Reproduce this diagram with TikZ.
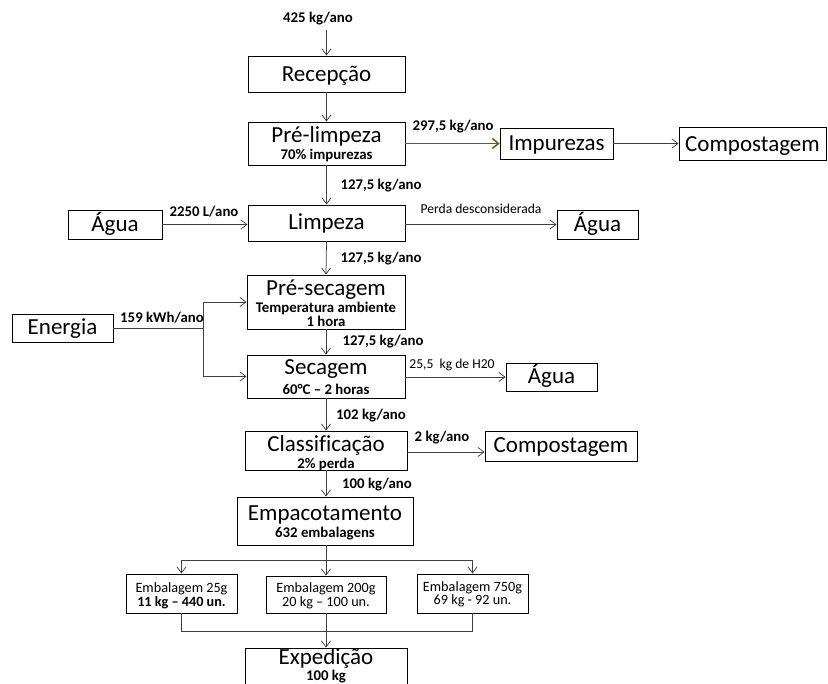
\documentclass[tikz,border=0pt]{standalone}
\usepackage{fontspec}
\setmainfont{Carlito}[Ligatures=CommonOff]
\usetikzlibrary{arrows.meta}
\definecolor{lnc}{HTML}{404040}
\definecolor{brn}{HTML}{7F5020}
\tikzset{
  box/.style={draw=black,line width=0.9pt,rectangle,inner sep=0pt,fill=white},
  conn/.style={draw=lnc,line width=0.75pt,-{Straight Barb[length=6pt,width=9pt,line width=0.75pt]}},
  plain/.style={draw=lnc,line width=0.75pt},
  big/.style={anchor=base,inner sep=0pt,font=\fontsize{23}{25}\selectfont},
  lab/.style={anchor=base,inner sep=0pt,font=\bfseries\fontsize{14.8}{16}\selectfont},
  sml/.style={anchor=base,inner sep=0pt,font=\fontsize{14.2}{15}\selectfont},
  smb/.style={anchor=base,inner sep=0pt,font=\bfseries\fontsize{14.2}{15}\selectfont},
  edr/.style={anchor=base,inner sep=0pt,font=\fontsize{13.6}{15}\selectfont}
}
\begin{document}
\begin{tikzpicture}[x=1pt,y=-1pt]
\useasboundingbox (0,0) rectangle (828,684);
\clip (0,0) rectangle (828,684);
% boxes
\node[box,minimum width=157pt,minimum height=36pt] (rec) at (326.5,74) {};
\node[box,minimum width=157pt,minimum height=43pt] (prel) at (326.5,143.5) {};
\node[box,minimum width=113pt,minimum height=31pt] (imp) at (556.5,143.5) {};
\node[box,minimum width=147pt,minimum height=33pt] (comp1) at (752.5,143.5) {};
\node[box,minimum width=94pt,minimum height=29pt] (agL) at (115,224.5) {};
\node[box,minimum width=157pt,minimum height=36pt] (limp) at (326.5,223) {};
\node[box,minimum width=81pt,minimum height=29pt] (agR) at (597.5,224.5) {};
\node[box,minimum width=158pt,minimum height=54pt] (pres) at (326,302) {};
\node[box,minimum width=101pt,minimum height=28pt] (ener) at (62.5,328) {};
\node[box,minimum width=158pt,minimum height=43pt] (sec) at (326,376.5) {};
\node[box,minimum width=91pt,minimum height=28pt] (agS) at (551.5,377) {};
\node[box,minimum width=162pt,minimum height=39pt] (cla) at (326,450.5) {};
\node[box,minimum width=152pt,minimum height=30pt] (comp2) at (561,446) {};
\node[box,minimum width=176pt,minimum height=48pt] (emp) at (325,521) {};
\node[box,minimum width=111pt,minimum height=39pt] (e25) at (181.5,593.5) {};
\node[box,minimum width=120pt,minimum height=37pt] (e200) at (326,594.5) {};
\node[box,minimum width=111pt,minimum height=39pt] (e750) at (472.5,593.5) {};
\node[box,minimum width=162pt,minimum height=52pt] (exp) at (326,674) {};
% box texts
\node[big] (trec) at (326.5,82) {Recepção};
\node[big] (tprel) at (326.5,143) {Pré-limpeza};
\node[lab] (tprel2) at (326.5,160) {70\% impurezas};
\node[big] (timp) at (556.5,151) {Impurezas};
\node[big] (tcomp1) at (752.5,152) {Compostagem};
\node[big] (tagL) at (115,232) {Água};
\node[big] (tlimp) at (326.5,230) {Limpeza};
\node[big] (tagR) at (597.5,232) {Água};
\node[big] (tpres) at (326,296) {Pré-secagem};
\node[lab] (tpres2) at (326,313) {Temperatura ambiente};
\node[lab] (tpres3) at (326,327) {1 hora};
\node[big] (tener) at (62.5,335) {Energia};
\node[big] (tsec) at (326,375) {Secagem};
\node[lab] (tsec2) at (326,395) {60°C – 2 horas};
\node[big] (tagS) at (551.5,384) {Água};
\node[big] (tcla) at (326,452) {Classificação};
\node[lab] (tcla2) at (326,469) {2\% perda};
\node[big] (tcomp2) at (561,453) {Compostagem};
\node[big] (temp) at (325,521) {Empacotamento};
\node[lab] (temp2) at (325,538) {632 embalagens};
\node[sml] (te25) at (181.5,592) {Embalagem 25g};
\node[smb] (te25b) at (181.5,606) {11 kg – 440 un.};
\node[sml] (te200) at (326,592) {Embalagem 200g};
\node[sml] (te200b) at (326,606) {20 kg – 100 un.};
\node[sml] (te750) at (472.5,591) {Embalagem 750g};
\node[sml] (te750b) at (472.5,605) {69 kg - 92 un.};
\node[big] (texp) at (326,664) {Expedição};
\node[lab] (texp2) at (326,680) {100 kg};
% connectors
\coordinate (in) at (326.5,30);
\node[lab] (l1) at (318,23) {425 kg/ano};
\draw[conn] (in) -- (rec.north);
\draw[conn] (rec.south) -- (prel.north);
\draw[draw=brn,line width=1.8pt,-{Straight Barb[length=6pt,width=10pt,line width=1.5pt]}] (prel.east) -- (imp.west);
\node[lab] (l2) at (453,131) {297,5 kg/ano};
\draw[conn] (imp.east) -- (comp1.west);
\draw[conn] (prel.south) -- (limp.north);
\node[lab] (l3) at (381,190) {127,5 kg/ano};
\draw[conn] (agL.east) -- (agL.east -| limp.west);
\node[lab] (l4) at (204,217) {2250 L/ano};
\draw[conn] (limp.east |- agR.west) -- (agR.west);
\node[edr] (l5) at (481,214) {Perda desconsiderada};
\draw[conn] (limp.south) -- (pres.north);
\node[lab] (l6) at (381,263) {127,5 kg/ano};
\coordinate (ej) at (203,328);
\draw[plain] (ener.east) -- (ej);
\draw[conn] (ej) |- (pres.west);
\draw[conn] (ej) |- (sec.west);
\node[lab] (l7) at (162,323) {159 kWh/ano};
\draw[conn] (pres.south) -- (sec.north);
\node[lab] (l8) at (383,346) {127,5 kg/ano};
\draw[conn] (sec.east |- agS.west) -- (agS.west);
\node[edr] (l9) at (452,369) {25,5\ \ kg de H20};
\draw[conn] (sec.south) -- (cla.north);
\node[lab] (l10) at (371,420) {102 kg/ano};
\coordinate (ce) at (407,452);
\draw[conn] (ce) -- (ce -| comp2.west);
\node[lab] (l11) at (442,442) {2 kg/ano};
\draw[conn] (cla.south) -- (cla.south |- emp.north);
\node[lab] (l12) at (377,489) {100 kg/ano};
\coordinate (br) at (326,560);
\draw[plain] (emp.south -| br) -- (br);
\draw[conn] (br) -| (e25.north);
\draw[conn] (br) -| (e750.north);
\draw[conn] (br) -- (br |- e200.north);
\coordinate (mg) at (326,631);
\draw[plain] (e25.south) |- (mg);
\draw[plain] (e750.south) |- (mg);
\draw[conn] (e200.south) -- (exp.north);
\end{tikzpicture}
\end{document}
